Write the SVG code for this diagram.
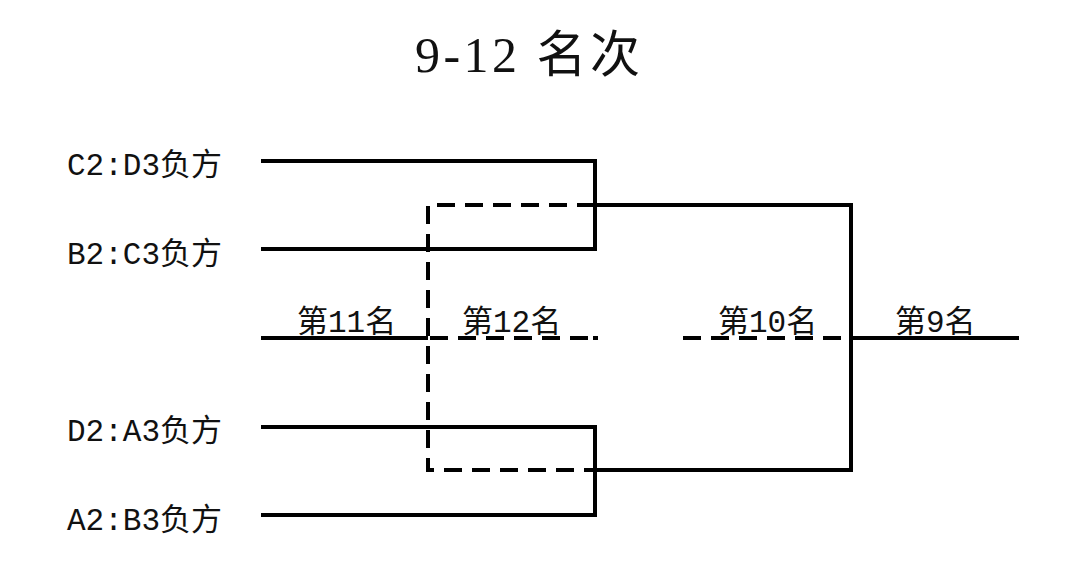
<svg xmlns="http://www.w3.org/2000/svg" width="1080" height="564" viewBox="0 0 1080 564">
<style>
.t{font-family:"Liberation Mono","Noto Sans CJK SC",monospace;fill:#111}
.ttl{font-family:"Liberation Serif","Noto Sans CJK SC",serif;font-size:50px;fill:#111}
.lab{font-size:31px}
.rk{font-size:31px}
.s{stroke:#000;stroke-width:4;fill:none}
.d{stroke:#000;stroke-width:4;fill:none;stroke-dasharray:18 10}
</style>
<rect width="1080" height="564" fill="#fff"/>
<text class="ttl" x="415" y="72" textLength="225" lengthAdjust="spacing">9-12 名次</text>
<g id="c2d3"><text class="t lab" x="67" y="175">C2:D3负方</text></g>
<g id="b2c3"><text class="t lab" x="67" y="264">B2:C3负方</text></g>
<g id="d2a3"><text class="t lab" x="67" y="441">D2:A3负方</text></g>
<g id="a2b3"><text class="t lab" x="67" y="530">A2:B3负方</text></g>
<g id="r11"><text class="t rk" x="297" y="332">第11名</text></g>
<g id="r12"><text class="t rk" x="462" y="332">第12名</text></g>
<g id="r10"><text class="t rk" x="718" y="332">第10名</text></g>
<g id="r9"><text class="t rk" x="895" y="332">第9名</text></g>
<g id="connectors">
<path class="s" d="M261 161H595V249H261"/>
<path class="s" d="M261 427H595V515H261"/>
<path class="s" d="M595 205H851V470H595"/>
<path class="s" d="M261 338H428"/>
<path class="s" d="M851 338H1019"/>
<path class="d" d="M595 205H428V470H595"/>
<path class="d" d="M430 338H588"/>
<path class="s" d="M593 338H598"/>
<path class="d" d="M683 338H851"/>
</g>
</svg>
